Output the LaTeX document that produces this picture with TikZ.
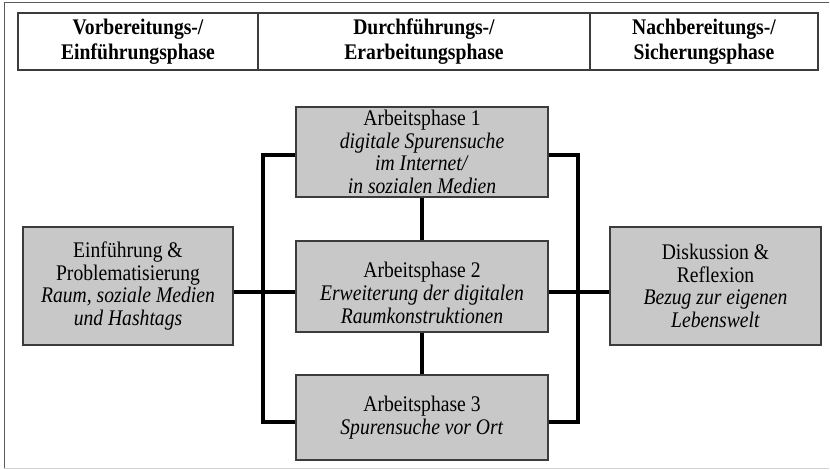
\documentclass[tikz,border=0pt]{standalone}
\usepackage{fontspec}
\setmainfont{Liberation Serif}[FakeStretch=0.88]
\usetikzlibrary{backgrounds}
\definecolor{boxgray}{RGB}{200,200,200}
\definecolor{edgegray}{RGB}{60,60,60}
\definecolor{framedark}{RGB}{90,90,90}
\definecolor{framelight}{RGB}{210,210,210}
\begin{document}
\begin{tikzpicture}[x=1pt,y=-1pt,
  box/.style={draw=edgegray, line width=1.1pt, fill=boxgray, inner sep=0pt, align=center,
              font=\fontsize{22.3}{22.7}\selectfont},
  txt/.style={align=center, inner sep=0pt, font=\fontsize{22.3}{22.7}\selectfont},
  hcell/.style={draw=edgegray, line width=1.1pt, inner sep=0pt, align=center,
              minimum height=57pt, font=\bfseries\fontsize{22.3}{25}\selectfont},
  conn/.style={line width=4.5pt, line join=miter, draw=black}]
\useasboundingbox (0,0) rectangle (830,470);
% outer frame
\draw[framedark, line width=1pt] (4,468) -- (4,3) -- (829,3);
\draw[framelight, line width=1pt] (4,468) -- (829,468);
% header
\node[hcell, minimum width=240pt] (h1) at (138,41.5) {Vorbereitungs-/\\Einführungsphase};
\node[hcell, minimum width=332pt] (h2) at (424,41.5) {Durchführungs-/\\Erarbeitungsphase};
\node[hcell, minimum width=228pt] (h3) at (704,41.5) {Nachbereitungs-/\\Sicherungsphase};
% boxes
\node[box, minimum width=210pt, minimum height=118pt] (lb) at (128,286)
  {Einführung \&\\Problematisierung\\\textit{Raum, soziale Medien}\\\textit{und Hashtags}};
\node[box, minimum width=252pt, minimum height=90pt] (ap1) at (422,152)
  {Arbeitsphase 1\\\textit{digitale Spurensuche}\\\textit{im Internet/}\\\textit{in sozialen Medien}};
\node[box, minimum width=252pt, minimum height=91pt] (ap2) at (422,286.5) {};
\node[txt] (ap2t) at (422,293)
  {Arbeitsphase 2\\\textit{Erweiterung der digitalen}\\\textit{Raumkonstruktionen}};
\node[box, minimum width=252pt, minimum height=85pt] (ap3) at (422,417.5)
  {Arbeitsphase 3\\\textit{Spurensuche vor Ort}};
\node[box, minimum width=211pt, minimum height=118pt] (rb) at (715.5,286)
  {Diskussion \&\\Reflexion\\\textit{Bezug zur eigenen}\\\textit{Lebenswelt}};
% bus coordinates
\coordinate (L1) at (263,155);
\coordinate (L2) at (263,292);
\coordinate (L3) at (263,422);
\coordinate (R1) at (578,155);
\coordinate (R2) at (578,292);
\coordinate (R3) at (578,422);
\begin{pgfonlayer}{background}
\draw[conn] (ap1.west |- L1) -- (L1) -- (L3) -- (ap3.west |- L3);
\draw[conn] (lb.east |- L2) -- (ap2.west |- L2);
\draw[conn] (ap1.east |- R1) -- (R1) -- (R3) -- (ap3.east |- R3);
\draw[conn] (ap2.east |- R2) -- (rb.west |- R2);
\draw[conn] (ap1.south) -- (ap2.north);
\draw[conn] (ap2.south) -- (ap3.north);
\end{pgfonlayer}
\end{tikzpicture}
\end{document}
